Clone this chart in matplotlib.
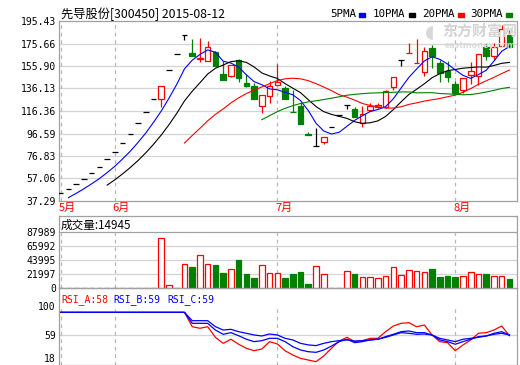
import numpy as np
import pandas as pd
import matplotlib
matplotlib.use('Agg')
import matplotlib.pyplot as plt

plt.rcParams['font.family'] = ['Noto Sans CJK SC', 'DejaVu Sans']

# daily candles 300450, 59 trading days up to 2015-08-12
opens = [44.05, 47.6, 52.0, 56.4, 61.9, 66.9, 73.9, 80.1, 88.5, 95.9, 105.6, 115.2, 126.9,
         127.2, 152.3, 166.4, 183.1, 167.1, 161.8, 160.3, 168.0, 148.9, 147.4, 161.2, 140.6, 138.3,
         120.8, 129.3, 139.0, 136.6, 115.9, 120.5, 96.2, 85.5, 88.9, 102.4, 112.6, 121.2, 117.9,
         105.6, 117.2, 119.8, 120.0, 137.5, 160.9, 167.0, 158.1, 150.2, 171.4, 158.8, 151.5, 140.3,
         134.6, 148.0, 147.1, 172.6, 164.4, 173.5, 183.1]
highs = [44.05, 47.6, 52.0, 56.4, 61.9, 66.9, 73.9, 80.1, 88.5, 95.9, 105.6, 115.2, 126.9,
         138.1, 152.3, 166.4, 183.1, 179.6, 180.9, 177.9, 169.1, 160.3, 156.8, 161.8, 148.6, 141.2,
         130.2, 143.0, 157.4, 138.3, 134.8, 124.0, 97.7, 101.2, 93.1, 102.4, 112.6, 121.2, 119.9,
         120.8, 123.4, 123.6, 134.8, 145.9, 160.9, 176.4, 179.2, 172.6, 174.3, 161.6, 160.3, 142.7,
         145.1, 159.4, 166.4, 176.5, 175.8, 191.5, 187.5]
lows = [44.05, 47.6, 52.0, 56.4, 61.9, 66.9, 73.9, 80.1, 88.5, 95.9, 105.6, 115.2, 126.9,
        120.1, 152.3, 166.4, 178.6, 165.1, 159.0, 160.3, 156.2, 143.9, 146.0, 141.6, 137.2, 126.5,
        114.6, 123.6, 139.0, 127.2, 115.7, 104.7, 95.0, 85.5, 87.4, 102.4, 112.6, 117.9, 111.4,
        102.6, 116.4, 118.6, 119.0, 134.4, 155.9, 167.0, 158.1, 147.1, 153.9, 142.1, 142.1, 132.2,
        132.4, 140.0, 139.6, 161.6, 161.2, 173.5, 172.8]
closes = [44.05, 47.6, 52.0, 56.4, 61.9, 66.9, 73.9, 80.1, 88.5, 95.9, 105.6, 115.2, 126.9,
          138.1, 152.3, 166.4, 183.1, 165.1, 163.2, 172.3, 156.2, 143.9, 156.8, 145.5, 138.2, 126.5,
          130.2, 138.6, 141.4, 127.2, 115.7, 104.7, 95.0, 85.5, 93.1, 102.4, 112.6, 121.2, 111.4,
          113.5, 120.8, 121.4, 134.0, 145.9, 160.9, 167.1, 158.2, 169.3, 164.7, 149.5, 146.6, 132.4,
          145.1, 151.5, 166.4, 165.1, 173.0, 188.0, 172.8]
# closes of the three days before the window (only used by the moving averages)
pre_closes = [33.1, 36.4, 40.05]

volumes = [300, 300, 300, 300, 300, 300, 300, 300, 300, 300, 300, 300, 300,
           78500, 4000, 300, 37400, 33700, 51600, 37400, 36300, 24200, 30000, 44200, 22100, 15800,
           36300, 24200, 24200, 16300, 22100, 25800, 6300, 34800, 22100, 300, 300, 26900, 22100,
           17400, 17400, 15800, 19000, 32700, 20500, 28400, 26900, 25800, 30000, 17900, 19000, 17900,
           19000, 25300, 22100, 22100, 19000, 19000, 14945]

rsi_a = [91, 91, 91, 91, 91, 91, 91, 91, 91, 91, 91, 91, 91, 91, 91, 91, 91,
         70.7, 68.5, 70.7, 55.7, 47.2, 53.0, 45.9, 40.2, 36.8, 39.2, 49.6, 46.3, 36.8, 30.7,
         26.0, 23.6, 21.3, 29.3, 40.2, 50.5, 55.7, 49.6, 51.0, 54.3, 54.3, 63.7, 71.7, 75.5,
         76.4, 70.7, 73.1, 59.0, 49.6, 48.2, 36.8, 44.9, 52.0, 61.4, 62.3, 66.0, 71.7, 58.0]
rsi_b = [91, 91, 91, 91, 91, 91, 91, 91, 91, 91, 91, 91, 91, 91, 91, 91, 91,
         75.5, 75.5, 75.5, 66.0, 60.0, 62.3, 58.0, 53.0, 49.6, 51.0, 54.3, 54.3, 49.6, 42.5,
         37.8, 35.4, 34.5, 37.8, 43.4, 49.6, 53.0, 48.2, 49.6, 52.0, 53.0, 55.7, 59.0, 62.3,
         61.4, 60.0, 60.4, 59.0, 52.0, 49.6, 45.9, 49.6, 53.0, 56.7, 57.6, 61.4, 63.7, 59.0]
rsi_c = [91, 91, 91, 91, 91, 91, 91, 91, 91, 91, 91, 91, 91, 91, 91, 91, 91,
         79.2, 79.2, 79.2, 70.8, 66.0, 67.0, 63.7, 61.4, 59.0, 57.6, 60.4, 59.0, 54.3, 52.0,
         47.2, 45.0, 44.0, 47.2, 49.6, 51.0, 52.0, 50.5, 51.0, 52.0, 53.0, 56.7, 60.0, 63.7,
         64.7, 62.3, 62.3, 59.0, 54.3, 52.0, 49.6, 53.0, 54.3, 55.7, 57.6, 60.0, 61.4, 59.0]

month_names = ['5月', '6月', '7月', '8月']
month_starts = [0, 7, 28, 51]
price_ticks = [37.29, 57.06, 76.83, 96.59, 116.36, 136.13, 155.90, 175.66, 195.43]
vol_ticks = [0, 21997, 43995, 65992, 87989]
rsi_ticks = [18, 59, 100]

RED = '#ff0000'
GREEN = '#008000'
BLUE = '#0000ff'
FRAME = '#a0a0a0'
GRID = '#d4d4d4'
MONO = 'DejaVu Sans Mono'

W, H = 520, 365


def box(x0, y0, x1, y1):
    """pixel box (top-left origin) -> figure rect"""
    return [x0 / W, 1 - y1 / H, (x1 - x0) / W, (y1 - y0) / H]


def fx(x):
    return x / W


def fy(y):
    return 1 - y / H


def style_axes(ax, ticks, labels):
    ax.set_xlim(-0.22, 58.98)
    ax.set_xticks([])
    ax.set_yticks(ticks)
    ax.set_yticklabels(labels, fontfamily=MONO, fontsize=7)
    ax.tick_params(axis='y', length=0, pad=2.2)
    for s in ax.spines.values():
        s.set_color(FRAME)
        s.set_linewidth(0.9)


fig = plt.figure(figsize=(W / 100, H / 100), dpi=100)
fig.patch.set_facecolor('white')

# watermark first so the chart draws over it
fig.text(fx(480), fy(31), '东方财富网', fontsize=10.8, fontweight='bold', color='#d4d4d4',
         ha='center', va='center')
fig.text(fx(480), fy(45), 'eastmoney.com', fontsize=6.5, fontweight='bold', color='#dadada',
         ha='center', va='center')
fig.text(fx(430), fy(33), '◖', fontsize=13, color='#d8d8d8', family='DejaVu Sans',
         ha='center', va='center')

ax = fig.add_axes(box(59, 21, 517, 201))
vax = fig.add_axes(box(59, 216, 517, 288))
rax = fig.add_axes(box(59, 288, 517, 365))
for a in (ax, vax, rax):
    a.patch.set_alpha(0)
    a.set_zorder(2)

x = np.arange(len(closes))
o = np.array(opens)
h = np.array(highs)
l = np.array(lows)
c = np.array(closes)
width = 0.72

# ---- price panel
ax.set_ylim(price_ticks[0], price_ticks[-1])
style_axes(ax, price_ticks, ['%.2f' % t for t in price_ticks])
for t in price_ticks[1:-1]:
    ax.axhline(t, color=GRID, lw=0.9, zorder=0)
for m in month_starts:
    ax.axvline(m, color='#b8b8b8', lw=0.9, ls=(0, (3, 3)), zorder=0)

for i in x:
    if c[i] > o[i]:
        col = RED
    elif c[i] < o[i]:
        col = GREEN
    else:
        col = 'black'
    ax.vlines(i, l[i], h[i], color=col, lw=0.9, zorder=2)
    if c[i] == o[i]:
        ax.hlines(o[i], i - width / 2, i + width / 2, color=col, lw=0.9, zorder=3)
    else:
        face = 'white' if col == RED else GREEN
        ax.bar(i, abs(c[i] - o[i]), width, bottom=min(o[i], c[i]),
               facecolor=face, edgecolor=col, lw=0.9, zorder=3)

# moving averages over the full close history
all_closes = pd.Series(pre_closes + closes)
n_pre = len(pre_closes)
for n, col in [(5, BLUE), (10, 'black'), (20, RED), (30, GREEN)]:
    ma = all_closes.rolling(n).mean().values[n_pre:]
    ax.plot(x, ma, color=col, lw=0.8, zorder=4)

# ---- volume panel
vax.set_ylim(0, 113760)
style_axes(vax, vol_ticks, [str(t) for t in vol_ticks])
for t in vol_ticks[1:-1]:
    vax.axhline(t, color=GRID, lw=0.9, zorder=0)
vax.axhline(vol_ticks[-1], color=FRAME, lw=0.9, zorder=0)
vax.vlines(month_starts, 0, vol_ticks[-1], color='#b8b8b8', lw=0.9, ls=(0, (3, 3)), zorder=0)
up = c >= o
vax.bar(x[up], np.array(volumes)[up], width, facecolor='white', edgecolor=RED, lw=0.9, zorder=3)
vax.bar(x[~up], np.array(volumes)[~up], width, facecolor=GREEN, edgecolor=GREEN, lw=0.9, zorder=3)

# ---- RSI panel
rax.set_ylim(16.6, 125.4)
style_axes(rax, rsi_ticks, [str(t) for t in rsi_ticks])
# lowest label sits a little higher, as in the original
rax.get_yticklabels()[0].set_verticalalignment('bottom')
rax.axhline(59, color=GRID, lw=0.9, zorder=0)
rax.vlines(month_starts, 16.6, 100, color='#b8b8b8', lw=0.9, ls=(0, (3, 3)), zorder=0)
rax.plot(x, rsi_a, color=RED, lw=0.9, zorder=3)
rax.plot(x, rsi_b, color=BLUE, lw=0.9, zorder=4)
rax.plot(x, rsi_c, color=BLUE, lw=0.9, zorder=4)

# ---- texts
fig.text(fx(61), fy(14), '先导股份[300450] 2015-08-12', fontsize=8.8, va='center', ha='left')

legend = [('5PMA', BLUE, 330), ('10PMA', 'black', 373), ('20PMA', RED, 422), ('30PMA', GREEN, 470)]
for name, col, px in legend:
    fig.text(fx(px), fy(14), name, fontfamily=MONO, fontsize=7.8, va='center', ha='left')
    sq_x = px + 6.7 * len(name) + 2
    fig.patches.append(plt.Rectangle((fx(sq_x), fy(16.5)), 6 / W, 4 / H,
                                     transform=fig.transFigure, color=col))

for name, m in zip(month_names, month_starts):
    xp = ax.transData.transform((m, 0))[0] / fig.dpi / fig.get_figwidth()
    fig.text(xp - 2 / W, fy(208), name, color=RED, fontsize=8, va='center', ha='left')

fig.text(fx(61), fy(225), '成交量:%d' % volumes[-1], fontsize=8.4, va='center', ha='left')

rsi_titles = [('RSI_A:58', RED, 61), ('RSI_B:59', BLUE, 113), ('RSI_C:59', BLUE, 167)]
for label, col, px in rsi_titles:
    fig.text(fx(px), fy(300), label, color=col, fontfamily=MONO, fontsize=7, va='center', ha='left')

fig.savefig('out.png', dpi=100)
